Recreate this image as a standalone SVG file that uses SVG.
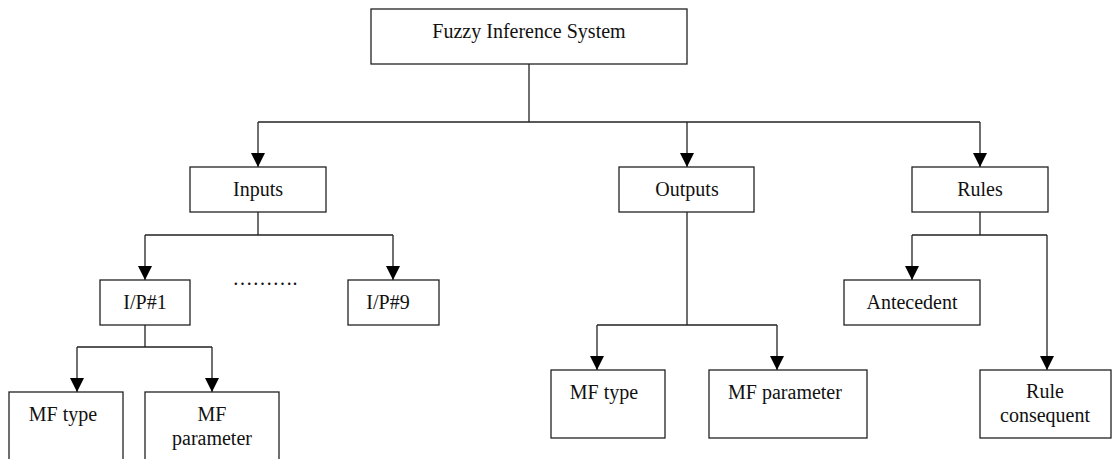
<svg xmlns="http://www.w3.org/2000/svg" width="1112" height="459" viewBox="0 0 1112 459">
<style>
.box{fill:#fff;stroke:#222;stroke-width:1.3}
.t{font-family:'Liberation Serif','Tinos','Times New Roman','DejaVu Serif',serif;font-size:20px;fill:#111;text-anchor:middle}
.c{fill:none;stroke:#222;stroke-width:1.3}
</style>
<defs>
<marker id="ah" viewBox="0 0 14 14" refX="14" refY="7" markerWidth="14" markerHeight="14" markerUnits="userSpaceOnUse" orient="auto">
<path d="M0,0 L14,7 L0,14 z" fill="#000"/>
</marker>
</defs>
<rect width="1112" height="459" fill="#fff"/>
<g id="connectors">
<path class="c" d="M529,64 V122"/>
<path class="c" d="M258,122 H980"/>
<path class="c" d="M258,122 V167" marker-end="url(#ah)"/>
<path class="c" d="M687,122 V167" marker-end="url(#ah)"/>
<path class="c" d="M980,122 V167" marker-end="url(#ah)"/>
<path class="c" d="M258,212 V235 M145,235 H393"/>
<path class="c" d="M145,235 V280" marker-end="url(#ah)"/>
<path class="c" d="M393,235 V280" marker-end="url(#ah)"/>
<path class="c" d="M145,325 V347 M77,347 H212"/>
<path class="c" d="M77,347 V392" marker-end="url(#ah)"/>
<path class="c" d="M212,347 V392" marker-end="url(#ah)"/>
<path class="c" d="M687,212 V325 M597,325 H777"/>
<path class="c" d="M597,325 V370" marker-end="url(#ah)"/>
<path class="c" d="M777,325 V370" marker-end="url(#ah)"/>
<path class="c" d="M980,212 V235 M912,235 H1047"/>
<path class="c" d="M912,235 V280" marker-end="url(#ah)"/>
<path class="c" d="M1047,235 V370" marker-end="url(#ah)"/>
</g>
<g id="fis"><rect class="box" x="371" y="9" width="316" height="55"/><text class="t" x="529" y="38">Fuzzy Inference System</text></g>
<g id="inputs"><rect class="box" x="190" y="167" width="136" height="45"/><text class="t" x="258" y="196">Inputs</text></g>
<g id="outputs"><rect class="box" x="619" y="167" width="135" height="45"/><text class="t" x="687" y="196">Outputs</text></g>
<g id="rules"><rect class="box" x="912" y="167" width="136" height="45"/><text class="t" x="980" y="196">Rules</text></g>
<g id="ip1"><rect class="box" x="100" y="280" width="90" height="45"/><text class="t" x="145" y="309">I/P#1</text></g>
<g id="dots"><text class="t" x="265" y="285">……….</text></g>
<g id="ip9"><rect class="box" x="348" y="280" width="91" height="45"/><text class="t" x="388" y="309">I/P#9</text></g>
<g id="antecedent"><rect class="box" x="844" y="280" width="136" height="45"/><text class="t" x="912" y="309">Antecedent</text></g>
<g id="in-mftype"><rect class="box" x="9" y="392" width="114" height="80"/><text class="t" x="63" y="421">MF type</text></g>
<g id="in-mfparam"><rect class="box" x="145" y="392" width="134" height="80"/><text class="t" x="212" y="421">MF</text><text class="t" x="212" y="445">parameter</text></g>
<g id="out-mftype"><rect class="box" x="551" y="370" width="114" height="68"/><text class="t" x="604" y="399">MF type</text></g>
<g id="out-mfparam"><rect class="box" x="709" y="370" width="158" height="68"/><text class="t" x="785" y="399">MF parameter</text></g>
<g id="consequent"><rect class="box" x="980" y="370" width="131" height="68"/><text class="t" x="1045" y="398">Rule</text><text class="t" x="1045" y="422">consequent</text></g>
</svg>
